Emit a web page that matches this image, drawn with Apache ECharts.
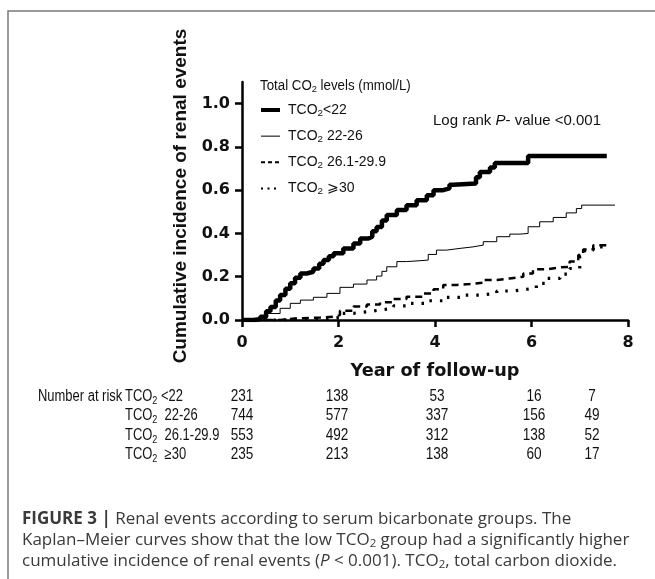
<!DOCTYPE html>
<html><head><meta charset="utf-8">
<script src="https://cdn.jsdelivr.net/npm/echarts@6/dist/echarts.min.js"></script>
<style>html,body{margin:0;padding:0;background:#fff}#c{width:655px;height:579px}</style>
</head><body><div id="c"></div>
<script>
// ---- data ----
const seriesNames = ['TCO2<22', 'TCO2 22-26', 'TCO2 26.1-29.9', 'TCO2 >=30'];
const t_lt22 = [0,0.25,0.38,0.5,0.59,0.7,0.79,0.9,1.0,1.1,1.21,1.34,1.48,1.6,1.69,1.8,1.9,2.1,2.31,2.45,2.62,2.7,2.79,2.9,3.0,3.21,3.41,3.62,3.83,3.97,4.17,4.3,4.38,4.85,4.93,5.14,5.24,5.93,7.56];
const v_lt22 = [0,0.005,0.015,0.04,0.06,0.09,0.115,0.145,0.17,0.195,0.215,0.223,0.238,0.26,0.277,0.295,0.308,0.33,0.354,0.377,0.385,0.41,0.43,0.46,0.485,0.508,0.53,0.554,0.577,0.6,0.608,0.625,0.631,0.66,0.684,0.705,0.726,0.758,0.758];
const t_22_26 = [0,0.24,0.52,0.79,1.0,1.21,1.48,1.76,2.03,2.31,2.59,2.79,2.9,3.0,3.21,3.41,3.69,3.86,4.03,4.24,4.52,4.79,5.0,5.28,5.55,5.76,5.93,6.17,6.45,6.72,6.93,7.04,7.73];
const v_22_26 = [0,0.008,0.03,0.054,0.077,0.092,0.105,0.123,0.151,0.166,0.185,0.203,0.225,0.246,0.27,0.274,0.277,0.303,0.323,0.331,0.338,0.346,0.362,0.385,0.397,0.4,0.431,0.454,0.474,0.495,0.515,0.531,0.531];
const t_26_30 = [0,0.79,1.14,1.62,1.9,2.03,2.31,2.59,2.86,3.14,3.41,3.76,3.97,4.17,4.45,4.72,5.0,5.28,5.55,5.83,6.03,6.31,6.59,6.79,6.97,7.07,7.28,7.58];
const v_26_30 = [0,0.008,0.011,0.015,0.023,0.043,0.062,0.072,0.082,0.097,0.108,0.123,0.142,0.162,0.166,0.172,0.185,0.192,0.2,0.215,0.234,0.243,0.246,0.27,0.3,0.326,0.346,0.346];
const t_ge30 = [0,0.79,1.48,1.83,2.03,2.31,2.59,2.86,3.14,3.48,3.83,4.17,4.59,4.93,5.28,5.62,5.9,6.1,6.31,6.59,6.79,7.0,7.1,7.28,7.55];
const v_ge30 = [0,0.003,0.006,0.012,0.031,0.038,0.046,0.054,0.065,0.077,0.089,0.105,0.115,0.123,0.134,0.142,0.146,0.169,0.192,0.212,0.238,0.292,0.323,0.338,0.338];
const yTicks = [0, 0.2, 0.4, 0.6, 0.8, 1.0];
const riskLabels = ['TCO{s|2} <22', 'TCO{s|2}  22-26', 'TCO{s|2}  26.1-29.9', 'TCO{s|2}  \u226530'];
const risk_lt22 = [231, 138, 53, 16, 7];
const risk_22_26 = [744, 577, 337, 156, 49];
const risk_26_30 = [553, 492, 312, 138, 52];
const risk_ge30 = [235, 213, 138, 60, 17];
const legendLabels = ['TCO{s|2}<22', 'TCO{s|2} 22-26', 'TCO{s|2} 26.1-29.9', 'TCO{s|2} \u2A7E30'];

const zip = (a, b) => a.map((x, i) => [x, b[i]]);
const BOLD = 'DejaVu Sans, Liberation Sans, sans-serif';
const ARIAL = 'Liberation Sans, Arial, sans-serif';
const NARROW = ARIAL;
const subRich = (size, fam) => ({ s: { fontSize: size * 0.7, fontFamily: fam || NARROW, color: '#111', padding: [size * 0.45, 0, 0, 0] } });

const chart = echarts.init(document.getElementById('c'), null, { renderer: 'canvas' });

const riskRows = [risk_lt22, risk_22_26, risk_26_30, risk_ge30];
const colX = [242, 337, 437, 534, 592];
const rowY = [397, 416, 436, 455];
const TF = 16;
const SX = 0.81;
const graphics = [];
graphics.push({ type: 'rect', shape: { x: 8, y: 11, width: 720, height: 640 }, style: { fill: 'none', stroke: '#7a7a7a', lineWidth: 1.5 }, silent: true });
graphics.push({ type: 'text', x: 260, y: 78, style: { text: 'Total CO{s|2} levels (mmol/L)', font: '14px ' + NARROW, fill: '#111', rich: subRich(14) }, scaleX: 0.95 });
graphics.push({ type: 'text', x: 433, y: 113, style: { text: 'Log rank {i|P}- value <0.001', font: '15px ' + NARROW, fill: '#111', rich: { i: { fontStyle: 'italic', fontSize: 15, fontFamily: NARROW, color: '#111' } } } });
graphics.push({ type: 'text', x: 38, y: rowY[0], scaleX: SX, style: { text: 'Number at risk', font: TF + 'px ' + NARROW, fill: '#111', verticalAlign: 'middle' } });
riskLabels.forEach((lab, r) => {
  graphics.push({ type: 'text', x: 125, y: rowY[r], scaleX: SX, style: { text: lab, font: TF + 'px ' + NARROW, fill: '#111', verticalAlign: 'middle', rich: subRich(TF) } });
  riskRows[r].forEach((v, c) => {
    graphics.push({ type: 'text', x: colX[c], y: rowY[r], scaleX: 0.85, style: { text: String(v), font: TF + 'px ' + NARROW, fill: '#111', align: 'center', verticalAlign: 'middle' } });
  });
});
const capFont = 'Open Sans, Liberation Sans, sans-serif';
const CAP = 17;
const capRich = {
  b: { fontWeight: 'bold', fontSize: CAP, fontFamily: capFont, color: '#222' },
  i: { fontStyle: 'italic', fontSize: CAP, fontFamily: capFont, color: '#3a3a3a' },
  s: { fontSize: 11.5, fontFamily: capFont, color: '#3a3a3a', padding: [8, 0, 0, 0] }
};
const capLines = [
  '{b|FIGURE 3 |} Renal events according to serum bicarbonate groups. The',
  'Kaplan\u2013Meier curves show that the low TCO{s|2} group had a significantly higher',
  'cumulative incidence of renal events ({i|P} < 0.001). TCO{s|2}, total carbon dioxide.'
];
capLines.forEach((txt, k) => {
  graphics.push({ type: 'text', x: 22, y: 519 + k * 21, style: { text: txt, font: CAP + 'px ' + capFont, fill: '#3a3a3a', verticalAlign: 'middle', rich: capRich } });
});

const base = { type: 'line', step: 'end', symbol: 'none', showSymbol: false, animation: false, z: 3 };
const styles = [
  { color: '#000', width: 4.5, type: 'solid' },
  { color: '#000', width: 1, type: 'solid' },
  { color: '#000', width: 2.5, type: [7, 5] },
  { color: '#000', width: 3.2, type: [2.5, 8] }
];
const legendStyles = [
  { color: '#000', width: 4, type: 'solid' },
  { color: '#000', width: 1, type: 'solid' },
  { color: '#000', width: 2, type: [4, 3] },
  { color: '#000', width: 2, type: [2, 4.5] }
];
const option = {
  animation: false,
  backgroundColor: '#fff',
  grid: { left: 242, right: 27, top: 82, bottom: 259, containLabel: false },
  legend: {
    orient: 'vertical', left: 259, top: 103, padding: 0, itemWidth: 19, itemHeight: 14, itemGap: 11,
    selectedMode: false,
    itemStyle: { color: 'rgba(0,0,0,0)', opacity: 0, borderWidth: 0 },
    textStyle: { fontFamily: NARROW, fontSize: 14, color: '#111', padding: [0, 0, 0, 3], rich: subRich(14) },
    formatter: (name) => legendLabels[seriesNames.indexOf(name)],
    data: seriesNames.map((n, i) => ({ name: n, lineStyle: legendStyles[i], itemStyle: { color: 'rgba(0,0,0,0)', opacity: 0, borderWidth: 0 } }))
  },
  xAxis: {
    type: 'value', min: 0, max: 8, interval: 2,
    name: 'Year of follow-up', nameLocation: 'middle', nameGap: 42,
    nameTextStyle: { fontFamily: BOLD, fontWeight: 'bold', fontSize: 17.7, color: '#111' },
    axisLine: { show: true, onZero: false, lineStyle: { color: '#000', width: 2.5 } },
    axisTick: { show: true, length: 7, inside: false, lineStyle: { color: '#000', width: 2.5 } },
    axisLabel: { fontFamily: BOLD, fontWeight: 'bold', fontSize: 16, color: '#111', margin: 15 },
    splitLine: { show: false }
  },
  yAxis: {
    type: 'value', min: 0, max: 1.1,
    name: 'Cumulative incidence of renal events', nameLocation: 'middle', nameGap: 47,
    nameTextStyle: { fontFamily: ARIAL, fontWeight: 'bold', fontSize: 19, color: '#111', padding: [0, 0, 0, 10] },
    axisLine: { show: true, onZero: false, lineStyle: { color: '#000', width: 2.5 } },
    axisTick: { show: true, length: 7, customValues: yTicks, lineStyle: { color: '#000', width: 2.5 } },
    axisLabel: { fontFamily: BOLD, fontWeight: 'bold', fontSize: 16, color: '#111', margin: 12, customValues: yTicks, formatter: (v) => v.toFixed(1) },
    splitLine: { show: false }
  },
  series: [
    Object.assign({}, base, { name: seriesNames[0], data: zip(t_lt22, v_lt22), lineStyle: styles[0], itemStyle: { color: '#000' } }),
    Object.assign({}, base, { name: seriesNames[1], data: zip(t_22_26, v_22_26), lineStyle: styles[1], itemStyle: { color: '#000' } }),
    Object.assign({}, base, { name: seriesNames[2], data: zip(t_26_30, v_26_30), lineStyle: styles[2], itemStyle: { color: '#000' } }),
    Object.assign({}, base, { name: seriesNames[3], data: zip(t_ge30, v_ge30), lineStyle: styles[3], itemStyle: { color: '#000' } })
  ],
  graphic: graphics
};
chart.setOption(option);
</script>
</body></html>
